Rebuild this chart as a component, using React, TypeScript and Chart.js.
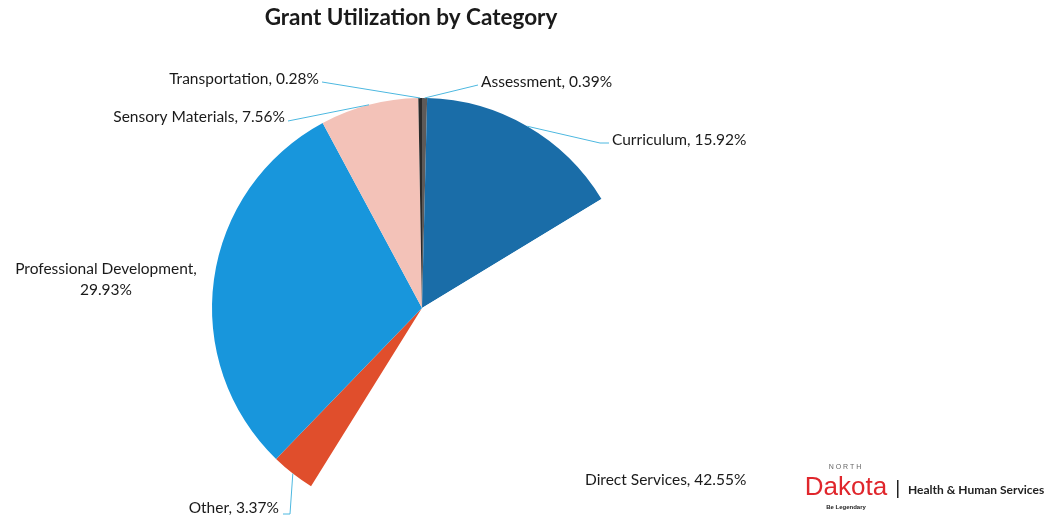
import React, { useEffect, useRef } from "react";
import { Chart, registerables } from "chart.js";

Chart.register(...registerables);

const categories = [
  "Assessment",
  "Curriculum",
  "Direct Services",
  "Other",
  "Professional Development",
  "Sensory Materials",
  "Transportation",
];
const values = [0.39, 15.92, 42.55, 3.37, 29.93, 7.56, 0.28];
const colors = ["#5e5a58", "#1a6da8", "#ffffff", "#e04e2c", "#1896dc", "#f3c2b8", "#2a2a2a"];
const valueLabels = ["0.39%", "15.92%", "42.55%", "3.37%", "29.93%", "7.56%", "0.28%"];

// layout of the label texts and leader lines (pixel positions)
type Lay = { lines: string[]; x: number; y: number; align: CanvasTextAlign; path: number[][] | null };
const labelLayout: Lay[] = [
  { lines: ["Assessment, 0.39%"], x: 481, y: 82, align: "left", path: [[478, 85]] },
  { lines: ["Curriculum, 15.92%"], x: 612, y: 140, align: "left", path: [[609, 143], [600, 143]] },
  { lines: ["Direct Services, 42.55%"], x: 585, y: 480, align: "left", path: null },
  { lines: ["Other, 3.37%"], x: 279, y: 508, align: "right", path: [[283, 514], [290, 514]] },
  { lines: ["Professional Development,", "29.93%"], x: 106, y: 269, align: "center", path: null },
  { lines: ["Sensory Materials, 7.56%"], x: 285, y: 117, align: "right", path: [[288, 121]] },
  { lines: ["Transportation, 0.28%"], x: 319, y: 79, align: "right", path: [[322, 82]] },
];

const overlay = {
  id: "overlay",
  afterDraw(chart: any) {
    const ctx = chart.ctx as CanvasRenderingContext2D;
    const meta = chart.getDatasetMeta(0);
    ctx.save();
    // title
    ctx.fillStyle = "#1a1a1a";
    ctx.font = "bold 22.5px Lato";
    ctx.textAlign = "center";
    ctx.textBaseline = "middle";
    ctx.fillText("Grant Utilization by Category", 411, 18);

    // leader lines
    ctx.strokeStyle = "#4db8e0";
    ctx.lineWidth = 1;
    meta.data.forEach((arc: any, i: number) => {
      const lay = labelLayout[i];
      if (!lay.path) return;
      const p = arc.getProps(["x", "y", "startAngle", "endAngle", "outerRadius"], true);
      const mid = (p.startAngle + p.endAngle) / 2;
      const ax = p.x + Math.cos(mid) * p.outerRadius;
      const ay = p.y + Math.sin(mid) * p.outerRadius;
      ctx.beginPath();
      ctx.moveTo(lay.path[0][0], lay.path[0][1]);
      for (let k = 1; k < lay.path.length; k++) ctx.lineTo(lay.path[k][0], lay.path[k][1]);
      ctx.lineTo(ax, ay);
      ctx.stroke();
    });

    // labels
    ctx.fillStyle = "#1a1a1a";
    ctx.font = "15.5px Lato";
    ctx.textBaseline = "middle";
    labelLayout.forEach((lay, i) => {
      ctx.textAlign = lay.align;
      const txt = lay.lines.length > 1 ? lay.lines : [categories[i] + ", " + valueLabels[i]];
      txt.forEach((t, k) => ctx.fillText(t, lay.x, lay.y + k * 21));
    });

    // logo
    ctx.textAlign = "center";
    ctx.fillStyle = "#666";
    ctx.font = "7px 'Liberation Sans'";
    ctx.fillText("N O R T H", 845, 467);
    ctx.fillStyle = "#e0262c";
    ctx.font = "26px 'Liberation Sans'";
    ctx.fillText("Dakota", 846, 488);
    ctx.fillStyle = "#222";
    ctx.font = "bold 6px 'Liberation Sans'";
    ctx.fillText("Be Legendary", 846, 507);
    ctx.fillRect(897, 480, 1.5, 18);
    ctx.textAlign = "left";
    ctx.font = "bold 12px Lato";
    ctx.fillText("Health & Human Services", 908, 490);
    ctx.restore();
  },
};

export default function App() {
  const ref = useRef<HTMLCanvasElement | null>(null);
  useEffect(() => {
    if (!ref.current) return;
    const chart = new Chart(ref.current, {
      type: "pie",
      data: {
        labels: categories,
        datasets: [
          {
            data: values,
            backgroundColor: colors,
            borderWidth: 0,
          },
        ],
      },
      options: {
        animation: false,
        responsive: false,
        layout: { padding: { left: 212, right: 419, top: 98, bottom: 2 } },
        plugins: {
          legend: { display: false },
          tooltip: { enabled: false },
          title: { display: false },
        },
      },
      plugins: [overlay],
    });
    return () => chart.destroy();
  }, []);
  return (
    <div style={{ position: "fixed", left: 0, top: 0, width: 1051, height: 520, background: "#fff" }}>
      <canvas ref={ref} width={1051} height={520} />
    </div>
  );
}
